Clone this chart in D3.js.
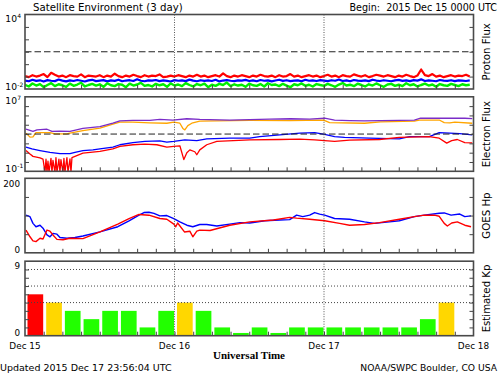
<!DOCTYPE html>
<html>
<head>
<meta charset="utf-8">
<script src="https://cdn.jsdelivr.net/npm/d3@7"></script>
<style>
  body { margin: 0; background: #fff; }
  svg text { font-family: "DejaVu Sans", Verdana, sans-serif; fill: #000; }
</style>
</head>
<body>
<svg id="chart" width="498" height="374"></svg>
<script>
// ---- data (hours since 2015 Dec 15 00 UTC) ----
var protonStep = 0.6;
var proton10 = [.11,.09,.13,.10,.12,.16,.09,.20,.14,.10,.12,.09,.13,.11,.10,.15,.09,.12,.11,.10,
  .13,.09,.12,.10,.17,.11,.09,.12,.10,.14,.11,.09,.13,.10,.12,.11,.15,.09,.10,.12,
  .10,.13,.11,.09,.12,.10,.14,.10,.12,.09,.11,.13,.10,.18,.11,.09,.12,.10,.13,.11,
  .09,.12,.10,.14,.11,.10,.12,.09,.13,.10,.11,.16,.10,.12,.09,.11,.13,.10,.12,.09,
  .11,.14,.10,.12,.09,.13,.11,.10,.15,.12,.10,.13,.09,.11,.14,.12,.10,.13,.11,.09,
  .12,.10,.14,.11,.09,.12,.37,.13,.11,.16,.10,.12,.09,.11,.13,.10,.12,.11,.14,.10];
var proton50 = [.048,.042,.055,.045,.05,.04,.052,.046,.043,.058,.047,.041,.05,.044,.053,.046,.04,.049,.055,.043,
  .047,.052,.041,.05,.045,.056,.042,.048,.051,.044,.06,.046,.042,.05,.047,.053,.043,.049,.045,.04,
  .052,.046,.05,.043,.057,.047,.042,.051,.045,.049,.044,.055,.041,.048,.052,.046,.043,.05,.047,.054,
  .044,.049,.042,.053,.046,.05,.041,.048,.056,.045,.051,.043,.047,.05,.042,.055,.046,.049,.044,.052,
  .047,.043,.051,.046,.058,.044,.049,.042,.053,.047,.045,.05,.043,.056,.048,.044,.051,.046,.042,.05,
  .054,.045,.049,.043,.052,.047,.06,.044,.05,.046,.042,.053,.048,.045,.051,.043,.049,.047,.044,.05];
var proton100 = [.022,.016,.028,.019,.025,.014,.021,.03,.017,.024,.02,.015,.027,.018,.023,.032,.016,.021,.026,.019,
  .024,.015,.029,.02,.017,.025,.022,.014,.027,.019,.023,.031,.018,.021,.016,.026,.02,.024,.015,.028,
  .019,.023,.017,.03,.021,.016,.025,.02,.027,.014,.022,.018,.026,.021,.033,.017,.024,.019,.022,.015,
  .027,.02,.018,.025,.016,.029,.021,.023,.017,.026,.019,.014,.024,.02,.028,.018,.022,.016,.025,.021,
  .018,.026,.02,.015,.023,.03,.019,.022,.017,.027,.021,.016,.024,.019,.028,.02,.015,.023,.026,.018,
  .022,.017,.029,.02,.024,.016,.021,.027,.019,.023,.015,.025,.02,.018,.026,.021,.017,.024,.02,.022];

var elec08a = [[0.16,3.3e3],[1.28,1.9e3],[1.92,2.8e3],[3.53,3.3e3],[4.33,1.9e3],[5.61,2.0e3],[7.22,1.9e3],
  [9.3,4.0e3],[12.03,6.3e3],[14.11,1.45e4],[15.23,2.6e4],[17.32,3.0e4],[20.04,2.9e4],[21.65,3.8e4],
  [23.73,3.2e4],[25.98,4.4e4],[28.06,3.8e4],[32.87,3.2e4],[36.08,3.5e4],[39.29,4.0e4],[42.65,4.4e4],
  [45.7,4.0e4],[48.1,5.0e4],[49.7,3.2e4],[52.1,2.8e4],[54.5,2.6e4],[57.1,2.8e4],[60.1,3.0e4],
  [62.5,3.2e4],[63.5,5.0e4],[67.3,5.0e4],[70.6,5.0e4],[71.8,4.6e4]];
var elec08b = [[0.16,1.26e3],[0.8,4.7e2],[1.28,5.0e2],[1.76,1.45e3],[4.01,1.45e3],[4.81,1.05e3],[6.73,1.05e3],
  [7.22,1.26e3],[9.3,2.3e3],[12.03,4.3e3],[14.11,1.15e4],[15.23,1.9e4],[17.32,1.9e4],[20.04,1.6e4],
  [22.77,1.45e4],[23.89,1.9e4],[24.86,1.45e4],[25.34,4.0e3],[25.66,2.8e3],[26.14,8.0e3],[26.78,1.45e4],
  [28.06,2.5e4],[36.08,3.0e4],[42.49,2.8e4],[47.95,3.2e4],[48.9,1.7e4],[54.5,1.45e4],[57.1,2.0e4],
  [62.5,2.4e4],[63.3,3.2e4],[66.5,3.2e4],[67.3,1.7e4],[68.2,1.6e4],[69.0,1.9e4],[71.8,1.45e4]];
var elec2a = [[0.16,40],[1.12,25],[2.41,17],[4.01,11],[5.61,7.8],[7.22,7.8],[8.02,11],[9.3,17],[10.9,20],
  [12.03,25],[14.11,40],[15.23,71],[17.32,123],[19.24,160],[21.65,186],[22.77,135],[23.89,160],
  [25.66,240],[27.58,200],[29.18,310],[32.87,360],[36.08,360],[37.68,540],[40.89,810],[44.1,1260],
  [46.5,1450],[48.1,900],[49.7,540],[51.3,430],[55.3,360],[60.1,310],[61.7,540],[64.9,540],
  [66.5,1450],[68.2,1260],[69.8,1100],[71.8,810]];
var elec2b = [[0.16,17],[0.8,7.2],[1.28,4],[2.41,2.7],[2.89,2],[3.21,0.08],[3.37,2],[3.53,0.08],[3.69,1.2],
  [3.85,0.08],[4.17,2.5],[4.33,0.08],[4.49,1.5],[4.81,0.08],[4.97,3],[5.13,0.08],[5.45,2],[5.61,0.08],
  [5.77,1.8],[6.09,0.08],[6.25,2.5],[6.41,0.08],[6.73,3],[6.9,0.08],[7.22,2.2],[7.38,0.08],[7.54,3],
  [8.02,4],[9.3,9],[12.03,13.5],[14.11,25],[15.23,47],[17.32,71],[19.24,83],[21.17,71],[22.77,40],
  [23.89,47],[24.86,55],[25.5,1.8],[25.98,10],[26.46,20],[27.26,12.6],[27.58,6],[28.06,20],[29.18,71],
  [30.79,160],[36.08,240],[40.89,260],[44.1,290],[46.5,240],[48.1,200],[49.7,160],[52.1,224],
  [56.9,260],[60.1,430],[64.9,540],[66.5,360],[67.7,107],[68.5,200],[69.4,260],[70.6,123],[71.8,112]];

var hpEast = [[0.16,101],[0.8,97],[1.28,79],[1.76,70],[2.41,74],[2.89,66],[3.53,48],[4.01,43],[4.49,52],
  [5.13,50],[5.61,41],[6.73,39],[8.02,41],[9.3,45],[12.03,56],[14.9,70],[16.7,86],[18.3,101],[19.1,108],
  [19.9,109],[20.7,106],[21.65,99],[22.77,100],[23.89,92],[24.86,83],[25.98,74],[26.94,70],[28.06,76],
  [29.18,76],[30.79,72],[32.87,77],[34.5,81],[36.08,80],[38.5,86],[40.89,88],[42.49,89],[43.6,101],
  [44.6,97],[45.7,101],[46.5,108],[47.3,104],[48.1,101],[49.7,92],[52.1,90],[54.5,83],[56.1,79],
  [58.5,83],[60.1,86],[62.5,97],[64.1,101],[66.5,106],[67.3,107],[68.4,101],[69.8,104],[70.6,97],[71.6,99]];
var hpWest = [[0.16,61],[0.8,43],[1.28,32],[1.76,30],[2.41,39],[2.89,37],[3.53,61],[4.01,58],[4.49,48],
  [5.13,36],[6.1,35],[7.2,39],[9.3,38],[12.03,56],[14.9,77],[16.7,92],[18.3,103],[19.9,101],[21.65,92],
  [22.77,90],[23.89,77],[24.2,70],[24.5,80],[25.6,56],[26.46,58],[26.94,43],[27.58,58],[28.06,61],
  [29.7,60],[32.87,74],[36.08,83],[39.9,88],[42.49,95],[43.6,93],[45.7,90],[48.1,86],[50.5,79],
  [52.1,74],[54.5,76],[56.9,81],[60.1,90],[62.5,97],[64.1,101],[65.7,101],[66.5,98],[67.3,79],
  [67.8,72],[68.5,80],[69.4,83],[70.6,74],[71.6,70]];

var kpValues = [5,4,3,2,3,3,1,3, 4,3,1,0.33,1,0.33,1,1, 1,1,1,1,1,2,4];
var dayLabels = ["Dec 15", "Dec 16", "Dec 17", "Dec 18"];

// ---- layout ----
var svg = d3.select("#chart");
var H = 74.5;
var tops = [14.5, 96.8, 178.3, 261.2];
var x = d3.scaleLinear().domain([0, 72]).range([25, 473.5]);

var yProton = d3.scaleLog().domain([1e-2, 1e4]).range([tops[0] + H, tops[0]]);
var yElec = d3.scaleLog().domain([1e-1, 1e7]).range([tops[1] + H, tops[1]]);
var yHp = d3.scaleLinear().domain([0, 200]).range([tops[2] + H, tops[2]]);
var yKp = d3.scaleLinear().domain([0, 9]).range([tops[3] + H, tops[3]]);

var defs = svg.append("defs");
tops.forEach(function (t, i) {
  defs.append("clipPath").attr("id", "clip" + i)
    .append("rect").attr("x", x(0)).attr("y", t).attr("width", x(72) - x(0)).attr("height", H);
});

function plotLine(i, data, yScale, color, width) {
  svg.append("path")
    .attr("clip-path", "url(#clip" + i + ")")
    .attr("d", d3.line().x(function (d) { return x(d[0]); }).y(function (d) { return yScale(d[1]); })(data))
    .attr("fill", "none").attr("stroke", color).attr("stroke-width", width)
    .attr("stroke-linejoin", "round");
}
function stepSeries(vals, step) {
  return vals.map(function (v, i) { return [i * step, v]; });
}

// proton
plotLine(0, stepSeries(proton10, protonStep), yProton, "#ff0000", 2.2);
plotLine(0, stepSeries(proton50, protonStep), yProton, "#0000ff", 2.2);
plotLine(0, stepSeries(proton100, protonStep), yProton, "#00ee00", 2.4);
// electron
plotLine(1, elec08b, yElec, "#ffa500", 1.3);
plotLine(1, elec08a, yElec, "#7a2cc8", 1.3);
plotLine(1, elec2a, yElec, "#0000ff", 1.3);
plotLine(1, elec2b, yElec, "#ff0000", 1.3);
// Hp
plotLine(2, hpEast, yHp, "#0000ff", 1.4);
plotLine(2, hpWest, yHp, "#ff0000", 1.4);

// Kp bars
var barW = x(3) - x(0);
svg.append("g").selectAll("rect").data(kpValues).enter().append("rect")
  .attr("x", function (d, i) { return x(i * 3) + 2.5; })
  .attr("y", function (d) { return yKp(d); })
  .attr("width", barW - 3)
  .attr("height", function (d) { return yKp(0) - yKp(d); })
  .attr("fill", function (d) { return d >= 5 ? "#ff0000" : d >= 4 ? "#ffd700" : "#22ff00"; });

// threshold dashed lines
[[yProton, 10], [yElec, 1000]].forEach(function (p) {
  svg.append("line").attr("x1", x(0)).attr("x2", x(72))
    .attr("y1", p[0](p[1])).attr("y2", p[0](p[1]))
    .attr("stroke", "#222").attr("stroke-width", 1).attr("stroke-dasharray", "6.5,3");
});
// Kp dotted levels
[4, 6, 8].forEach(function (k) {
  svg.append("line").attr("x1", x(0)).attr("x2", x(72))
    .attr("y1", yKp(k)).attr("y2", yKp(k))
    .attr("stroke", "#444").attr("stroke-width", 1).attr("stroke-dasharray", "1,2");
});
// day dividers
tops.forEach(function (t) {
  [24, 48].forEach(function (h) {
    svg.append("line").attr("x1", x(h)).attr("x2", x(h)).attr("y1", t).attr("y2", t + H)
      .attr("stroke", "#555").attr("stroke-width", 1).attr("stroke-dasharray", "1,1.5");
  });
});

// axes ticks and frames
var yScales = [yProton, yElec, yHp, yKp];
var yTicks = [[1e-1, 1, 10, 100, 1e3], [1, 10, 100, 1e3, 1e4, 1e5, 1e6], [50, 100, 150], [1, 2, 3, 4, 5, 6, 7, 8]];
tops.forEach(function (t, i) {
  var g = svg.append("g");
  g.append("g").attr("transform", "translate(" + x(0) + ",0)")
    .call(d3.axisLeft(yScales[i]).tickValues(yTicks[i]).tickSize(-4).tickFormat(""));
  g.append("g").attr("transform", "translate(" + x(72) + ",0)")
    .call(d3.axisRight(yScales[i]).tickValues(yTicks[i]).tickSize(-4).tickFormat(""));
  g.append("g").attr("transform", "translate(0," + (t + H) + ")")
    .call(d3.axisBottom(x).tickValues(d3.range(3, 72, 3)).tickSize(-4).tickFormat(""));
  g.selectAll(".domain").remove();
  g.selectAll(".tick line").attr("stroke", "#444").attr("stroke-width", 1);
  svg.append("rect").attr("x", x(0)).attr("y", t).attr("width", x(72) - x(0)).attr("height", H)
    .attr("fill", "none").attr("stroke", "#4a4a4a").attr("stroke-width", 1.6);
});

// left labels
function powLabel(yBase, exp) {
  svg.append("text").attr("x", 17).attr("y", yBase).attr("text-anchor", "end")
    .style("font-size", "9.2px").text("10");
  svg.append("text").attr("x", 17.3).attr("y", yBase - 3.5).style("font-size", "6px").text(exp);
}
powLabel(tops[0] + 7.2, "4");
powLabel(tops[0] + H + 1, "-2");
powLabel(tops[1] + 6.8, "7");
powLabel(tops[1] + H + 0.2, "-1");
function numLabel(yBase, txt) {
  svg.append("text").attr("x", 20).attr("y", yBase).attr("text-anchor", "end")
    .style("font-size", "8.8px").text(txt);
}
numLabel(tops[2] + 8.2, "200");
numLabel(tops[2] + H + 0.6, "0");
numLabel(tops[3] + 8, "9");
numLabel(tops[3] + H + 0.6, "0");

// right labels
["Proton Flux", "Electron Flux", "GOES Hp", "Estimated Kp"].forEach(function (s, i) {
  svg.append("text")
    .attr("transform", "translate(489.5," + (tops[i] + H / 2) + ") rotate(-90)")
    .attr("text-anchor", "middle").style("font-size", "10.2px").text(s);
});

// bottom date labels
dayLabels.forEach(function (s, i) {
  svg.append("text").attr("x", x(i * 24)).attr("y", 349.3).attr("text-anchor", "middle")
    .style("font-size", "8.9px").text(s);
});
svg.append("text").attr("x", 249).attr("y", 359.3).attr("text-anchor", "middle")
  .style("font-family", "'Liberation Serif', serif").style("font-weight", "bold")
  .style("font-size", "11px").text("Universal Time");

// titles
svg.append("text").attr("x", 33).attr("y", 11.3).style("font-size", "10.2px")
  .text("Satellite Environment (3 day)");
svg.append("text").attr("x", 497).attr("y", 11.3).attr("text-anchor", "end")
  .style("font-size", "9.6px").attr("xml:space", "preserve").text("Begin:  2015 Dec 15 0000 UTC");
svg.append("text").attr("x", 0).attr("y", 370.5).style("font-size", "9.5px")
  .text("Updated 2015 Dec 17 23:56:04 UTC");
svg.append("text").attr("x", 497).attr("y", 370.5).attr("text-anchor", "end")
  .style("font-size", "9.2px").text("NOAA/SWPC Boulder, CO USA");
</script>
</body>
</html>
